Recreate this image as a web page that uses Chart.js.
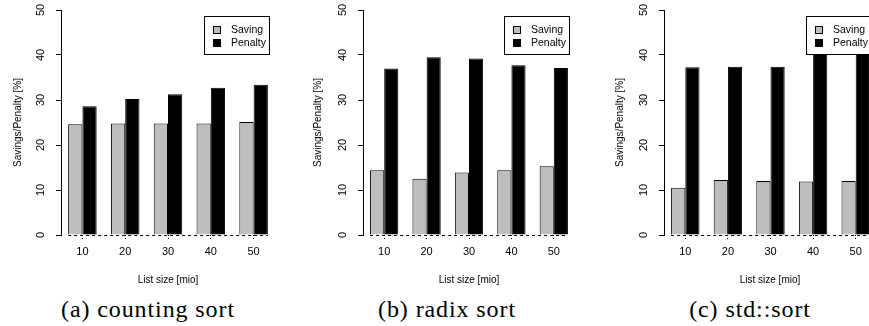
<!DOCTYPE html>
<html>
<head>
<meta charset="utf-8">
<script src="https://cdn.jsdelivr.net/npm/chart.js@4/dist/chart.umd.min.js"></script>
<style>
    html, body { margin: 0; padding: 0; background: #fff; width: 869px; height: 326px; overflow: hidden; position: relative; }
    canvas { position: absolute; top: 0; }
    .cap { position: absolute; top: 295px; width: 300px; text-align: center; font-family: "Liberation Serif", serif; font-size: 24px; letter-spacing: 0.9px; line-height: 28px; color: #000; white-space: nowrap; }
    .xt { position: absolute; top: 274px; width: 200px; text-align: center; font-family: "Liberation Sans", Arial, sans-serif; font-size: 10px; line-height: 12px; color: #000; white-space: nowrap; }
</style>
</head>
<body>
<canvas id="chartA" width="268" height="292" style="left:12px"></canvas>
<canvas id="chartB" width="268" height="292" style="left:312px"></canvas>
<canvas id="chartC" width="268" height="292" style="left:614px"></canvas>
<div class="xt" style="left:68px">List size [mio]</div>
<div class="xt" style="left:369px">List size [mio]</div>
<div class="xt" style="left:670px">List size [mio]</div>
<div class="cap" style="left:-2px">(a) counting sort</div>
<div class="cap" style="left:297px">(b) radix sort</div>
<div class="cap" style="left:600px">(c) std::sort</div>
<script>
// list sizes in millions
const listSizes = ["10", "20", "30", "40", "50"];
const seriesNames = ["Saving", "Penalty"];

// (a) counting sort
const countingSaving = [24.6, 24.8, 24.8, 24.8, 25.1];
const countingPenalty = [28.6, 30.2, 31.3, 32.7, 33.4];

// (b) radix sort
const radixSaving = [14.4, 12.5, 13.9, 14.4, 15.3];
const radixPenalty = [37.0, 39.5, 39.2, 37.7, 37.1];

// (c) std::sort  (last two penalty tops hidden under the legend)
const stdSaving = [10.5, 12.2, 12.0, 11.9, 12.0];
const stdPenalty = [37.3, 37.4, 37.4, 41.5, 41.0];

const FONT = "'Liberation Sans', Arial, sans-serif";

// dotted line at zero, from first bar edge to last bar edge
const zeroLine = {
    id: "zeroLine",
    beforeDatasetsDraw(chart) {
        const ctx = chart.ctx;
        const first = chart.getDatasetMeta(0).data[0];
        const lastMeta = chart.getDatasetMeta(chart.data.datasets.length - 1);
        const last = lastMeta.data[lastMeta.data.length - 1];
        const y = Math.round(chart.scales.y.getPixelForValue(0)) + 0.5;
        ctx.save();
        ctx.strokeStyle = "#000";
        ctx.lineWidth = 1;
        ctx.setLineDash([3, 3]);
        ctx.beginPath();
        ctx.moveTo(first.x - first.width / 2, y);
        ctx.lineTo(last.x + last.width / 2, y);
        ctx.stroke();
        ctx.restore();
    }
};

// boxed legend in the top right corner of the plot
const boxLegend = {
    id: "boxLegend",
    afterDraw(chart) {
        const ctx = chart.ctx;
        const area = chart.chartArea;
        const w = 65, h = 38;
        const x = Math.round(area.right - 6 - w), y = Math.round(area.top + 6);
        ctx.save();
        ctx.fillStyle = "#fff";
        ctx.fillRect(x, y, w, h);
        ctx.strokeStyle = "#000";
        ctx.lineWidth = 1;
        ctx.strokeRect(x + 0.5, y + 0.5, w, h);
        ctx.font = "10.5px " + FONT;
        ctx.textBaseline = "middle";
        chart.data.datasets.forEach((ds, i) => {
            const cy = Math.round(y + 14 + i * 12.7);
            ctx.fillStyle = ds.backgroundColor;
            ctx.fillRect(x + 9, cy - 4, 7, 7);
            ctx.strokeRect(x + 9.5, cy - 3.5, 7, 7);
            ctx.fillStyle = "#000";
            ctx.fillText(ds.label, x + 27, cy);
        });
        ctx.restore();
    }
};

function makePanel(id, saving, penalty, yWidth) {
    const ctx = document.getElementById(id).getContext("2d");
    return new Chart(ctx, {
        type: "bar",
        data: {
            labels: listSizes,
            datasets: [
                { label: seriesNames[0], data: saving, backgroundColor: "#bebebe", borderColor: "#000", borderWidth: 1,
                  categoryPercentage: 0.667, barPercentage: 1.0 },
                { label: seriesNames[1], data: penalty, backgroundColor: "#000", borderColor: "#000", borderWidth: 1,
                  categoryPercentage: 0.667, barPercentage: 1.0 }
            ]
        },
        options: {
            responsive: false,
            animation: false,
            devicePixelRatio: 1,
            layout: { padding: { top: 10, right: 5, left: 0, bottom: 0 } },
            plugins: { legend: { display: false }, tooltip: { enabled: false } },
            scales: {
                x: {
                    offset: true,
                    grid: { offset: false, drawOnChartArea: false, tickLength: 6, tickColor: "#000", tickWidth: 1, tickBorderDash: [1, 2] },
                    border: { display: false },
                    ticks: { color: "#000", padding: 4, font: { family: FONT, size: 11 } },
                    title: { display: false },
                    afterFit: (s) => { s.height = 57; }
                },
                y: {
                    min: 0,
                    max: 50,
                    grid: { drawOnChartArea: false, tickLength: 5, color: "#000" },
                    border: { display: true, color: "#000" },
                    ticks: { color: "#000", stepSize: 10, minRotation: 90, maxRotation: 90, crossAlign: "center", padding: 9, font: { family: FONT, size: 11 } },
                    title: { display: true, text: "Savings/Penalty [%]", color: "#000", padding: 0, font: { family: FONT, size: 10 } },
                    afterFit: (s) => { s.width = yWidth; s.paddingTop = 0; s.paddingBottom = 0; }
                }
            }
        },
        plugins: [zeroLine, boxLegend]
    });
}

makePanel("chartA", countingSaving, countingPenalty, 49);
makePanel("chartB", radixSaving, radixPenalty, 51);
makePanel("chartC", stdSaving, stdPenalty, 50);
</script>
</body>
</html>
